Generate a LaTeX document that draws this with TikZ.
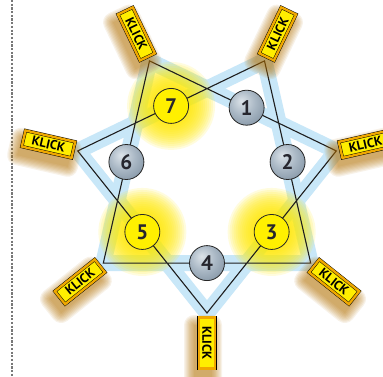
\documentclass[tikz,border=0pt]{standalone}
\usepackage{fontspec}
\setmainfont{PT Sans}
\usetikzlibrary{calc}
\definecolor{bandblue}{RGB}{200,231,248}
\definecolor{nodeyellow}{RGB}{255,240,0}
\definecolor{glowyellow}{RGB}{255,234,0}
\definecolor{klickorange}{RGB}{240,168,0}
\definecolor{klickyellow}{RGB}{255,238,0}
\definecolor{shadowbrown}{RGB}{180,112,0}
\definecolor{ballA}{RGB}{220,227,233}
\definecolor{ballB}{RGB}{170,184,197}
\definecolor{ballC}{RGB}{108,127,145}
\definecolor{numtext}{RGB}{38,38,46}
\definecolor{dashgray}{RGB}{120,120,120}
\definecolor{linedark}{RGB}{30,30,30}
\pgfdeclareradialshading{ballgray}{\pgfpoint{-8bp}{10bp}}{color(0bp)=(ballA); color(18bp)=(ballB); color(46bp)=(ballC); color(70bp)=(ballC)}
\begin{document}
\begin{tikzpicture}[x=1pt,y=-1pt,
  band/.style={draw=bandblue, line width=16pt, line join=miter},
  starline/.style={draw=linedark, line width=1.1pt},
  dashline/.style={draw=dashgray, line width=1.1pt, dash pattern=on 2.2pt off 1.5pt},
  numnode/.style={circle, draw=black!85, line width=0.8pt, minimum size=35pt, inner sep=0pt,
    font=\bfseries\fontsize{21}{21}\selectfont, text=numtext},
  graynode/.style={numnode, shade, shading=ballgray},
  yellownode/.style={numnode, fill=nodeyellow},
  klick/.style={rectangle, fill=klickyellow, draw=black, line width=0.45pt,
    double=klickorange, double distance=2.4pt, minimum width=51pt, minimum height=16.5pt,
    inner sep=0pt, font=\bfseries\fontsize{13}{13}\selectfont, text=black},
  glowlayer/.style={fill=glowyellow, opacity=0.13},
  shadowlayer/.style={fill=shadowbrown, opacity=0.09}
]
\useasboundingbox (0,0) rectangle (383,377);
\fill[white] (0,0) rectangle (383,377);

% dashed separator
\coordinate (dtop) at (12,0);
\coordinate (dbot) at (12,377);
\draw[dashline] (dtop) -- (dbot);

% star tips
\coordinate (t0) at (207,313.0);
\coordinate (t1) at (103.3,263.1);
\coordinate (t2) at (77.7,150.9);
\coordinate (t3) at (149.5,60.9);
\coordinate (t4) at (264.5,60.9);
\coordinate (t5) at (336.3,150.9);
\coordinate (t6) at (310.7,263.1);

% node centres
\coordinate (c1) at ($(t3)!0.52!(t5)$);
\coordinate (c2) at ($(t4)!0.5!(t6)$);
\coordinate (c3) at ($(t5)!0.5!(t0)$);
\coordinate (c4) at ($(t6)!0.5!(t1)$);
\coordinate (c5) at ($(t0)!0.5!(t2)$);
\coordinate (c6) at ($(t1)!0.5!(t3)$);
\coordinate (c7) at ($(t2)!0.5!(t4)$);

% light blue band
\draw[band] (t0) -- (t2) -- (t4) -- (t6) -- (t1) -- (t3) -- (t5) -- cycle;

% yellow glows
\foreach \c in {c7,c5,c3}{
  \foreach \r in {44,42,...,18}{
    \fill[glowlayer] (\c) circle (\r pt);
  }
}

% black star lines
\draw[starline] (t0) -- (t2) -- (t4) -- (t6) -- (t1) -- (t3) -- (t5) -- cycle;

% KLICK labels
\foreach \k/\x/\y/\a in {0/207/343.0/-90, 1/79.9/281.8/38.57, 2/48.5/144.2/-12.86,
    3/136.4/33.9/-64.29, 4/277.6/33.9/64.29, 5/365.5/144.2/12.86, 6/334.1/281.8/-38.57}{
  \begin{scope}[shift={(\x,\y)}, shift={(-4,8)}, rotate=\a]
    \foreach \e in {0,1.25,...,10}{
      \fill[shadowlayer, rounded corners=\e pt] (-26-\e,-9-\e) rectangle (26+\e,9+\e);
    }
  \end{scope}
  \node[klick, rotate=\a] (k\k) at (\x,\y) {KLICK};
}

% numbered nodes
\node[graynode] (n1) at (c1) {1};
\node[graynode] (n2) at (c2) {2};
\node[yellownode] (n3) at (c3) {3};
\node[graynode] (n4) at (c4) {4};
\node[yellownode] (n5) at (c5) {5};
\node[graynode] (n6) at (c6) {6};
\node[yellownode] (n7) at (c7) {7};
\end{tikzpicture}
\end{document}
